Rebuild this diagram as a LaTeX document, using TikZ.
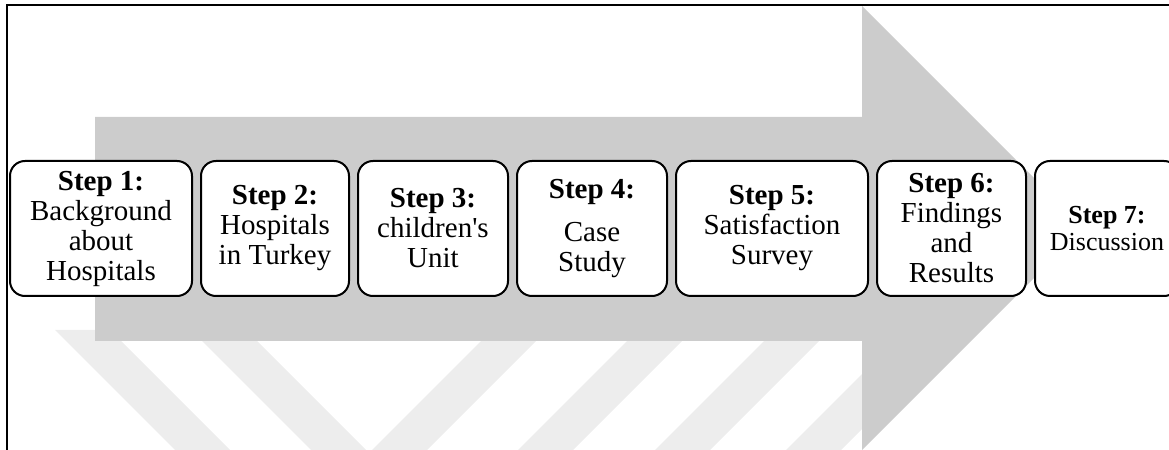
\documentclass[tikz,border=0pt]{standalone}
\usepackage{fontspec}
\setmainfont{Liberation Serif}
\usetikzlibrary{positioning}
\begin{document}
\begin{tikzpicture}[x=0.5pt,y=0.5pt,node distance=3.5pt,
		stepbox/.style={draw,line width=1pt,rounded corners=7.5pt,fill=white,align=center,
			minimum height=67.5pt,inner sep=0pt,font=\fontsize{14.5}{15}\selectfont},
		stripe/.style={fill=black!7}]
	\def\w{55} % do rong soc mo
	\useasboundingbox (0,0) rectangle (1169,450);
	% soc mo phia duoi
	\foreach \u in {55,191}
		\fill[stripe] (\u,120) -- ({\u+\w},120) -- ({\u+\w+120},0) -- ({\u+120},0) -- cycle;
	\foreach \u in {372,518,655,786}
		\fill[stripe] (\u,0) -- ({\u+\w},0) -- ({\u+\w+120},120) -- ({\u+120},120) -- cycle;
	% mui ten xam
	\fill[black!20] (95,333) -- (862,333) -- (862,444) -- (1084,222) -- (862,0) -- (862,109) -- (95,109) -- cycle;
	\draw[line width=1pt] (7,0) -- (7,445) -- (1169,445);
	% cac buoc
	\node[stepbox,minimum width=91pt] (s1) at (101,221.5) {\textbf{Step 1:}\\Background\\about\\Hospitals};
	\node[stepbox,minimum width=74pt,right=of s1] (s2) {\textbf{Step 2:}\\Hospitals\\in Turkey};
	\node[stepbox,minimum width=75pt,right=of s2] (s3) {\textbf{Step 3:}\\children\textquotesingle s\\Unit};
	\node[stepbox,minimum width=75pt,right=of s3] (s4) {\textbf{Step 4:}\\[6.5pt]Case\\Study};
	\node[stepbox,minimum width=96pt,right=of s4] (s5) {\textbf{Step 5:}\\Satisfaction\\Survey};
	\node[stepbox,minimum width=74.5pt,right=of s5] (s6) {\textbf{Step 6:}\\Findings\\and\\Results};
	\node[stepbox,minimum width=72pt,right=of s6,font=\fontsize{13}{13.5}\selectfont] (s7) {\textbf{Step 7:}\\Discussion};
\end{tikzpicture}
\end{document}
